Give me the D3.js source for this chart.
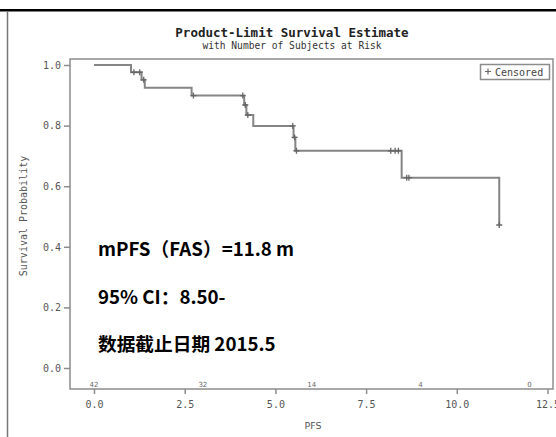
<!DOCTYPE html>
<html>
<head>
<meta charset="utf-8">
<script src="https://cdn.jsdelivr.net/npm/d3@7"></script>
<style>
  body { margin: 0; background: #fff; }
  svg { display: block; }
</style>
</head>
<body>
<svg id="chart" width="556" height="437"></svg>
<script>
// Kaplan-Meier steps: time of event and survival after it
const eventTimes = [1.02, 1.31, 1.40, 2.69, 4.14, 4.20, 4.39, 5.50, 5.55, 8.48, 11.17];
const eventSurv  = [0.976, 0.951, 0.925, 0.899, 0.868, 0.835, 0.799, 0.761, 0.717, 0.628, 0.472];
// censored subjects
const censTimes = [1.10, 1.26, 1.37, 2.74, 4.10, 4.17, 4.24, 5.48, 5.53, 5.58, 8.18, 8.30, 8.39, 8.62, 8.68, 11.17];
const censSurv  = [0.976, 0.976, 0.951, 0.899, 0.899, 0.868, 0.835, 0.799, 0.761, 0.717, 0.717, 0.717, 0.717, 0.628, 0.628, 0.472];
// number at risk
const riskTimes = [0, 3, 6, 9, 12];
const riskCounts = [42, 32, 14, 4, 0];
const xTicks = [0, 2.5, 5, 7.5, 10, 12.5];
const yTicks = [0, 0.2, 0.4, 0.6, 0.8, 1.0];
const notes = ["mPFS（FAS）=11.8 m", "95% CI：8.50-", "数据截止日期 2015.5"];

const svg = d3.select("#chart");
const mono = "'DejaVu Sans Mono', 'Liberation Mono', monospace";
const grey = "#8c8c8c";

// page frame
svg.append("rect").attr("x", 0).attr("y", 9).attr("width", 556).attr("height", 2.5).attr("fill", "#000");
svg.append("line").attr("x1", 7.5).attr("x2", 7.5).attr("y1", 12).attr("y2", 437)
    .attr("stroke", "#777").attr("stroke-width", 1.5);

const box = {left: 70, top: 59, right: 553, bottom: 389};
const x = d3.scaleLinear().domain([0, 12.5]).range([94, 547.5]);
const y = d3.scaleLinear().domain([0, 1]).range([368, 65]);

// plot border
svg.append("rect")
    .attr("x", box.left).attr("y", box.top)
    .attr("width", box.right - box.left).attr("height", box.bottom - box.top)
    .attr("fill", "none").attr("stroke", grey).attr("stroke-width", 1.5);

// titles
svg.append("text").attr("x", 292).attr("y", 37).attr("text-anchor", "middle")
    .attr("font-family", mono).attr("font-weight", "bold").attr("font-size", 12.5).attr("fill", "#222")
    .text("Product-Limit Survival Estimate");
svg.append("text").attr("x", 292).attr("y", 49).attr("text-anchor", "middle")
    .attr("font-family", mono).attr("font-size", 9.6).attr("fill", "#333")
    .text("with Number of Subjects at Risk");

// axes
const xAxis = svg.append("g").attr("transform", `translate(0,${box.bottom})`)
    .call(d3.axisBottom(x).tickValues(xTicks).tickSize(5).tickPadding(7).tickFormat(d3.format(".1f")));
const yAxis = svg.append("g").attr("transform", `translate(${box.left},0)`)
    .call(d3.axisLeft(y).tickValues(yTicks).tickSize(6).tickPadding(3).tickFormat(d3.format(".1f")));
[xAxis, yAxis].forEach(g => {
    g.select(".domain").remove();
    g.selectAll("line").attr("stroke", grey).attr("stroke-width", 1.5);
    g.selectAll("text").attr("font-family", mono).attr("font-size", 10).attr("fill", "#555");
});

svg.append("text").attr("x", 313).attr("y", 429).attr("text-anchor", "middle")
    .attr("font-family", "'DejaVu Sans', sans-serif").attr("font-size", 9.5).attr("fill", "#555")
    .text("PFS");
svg.append("text").attr("transform", "translate(27,216) rotate(-90)").attr("text-anchor", "middle")
    .attr("font-family", mono).attr("font-size", 10).attr("fill", "#555")
    .text("Survival Probability");

// at-risk counts
svg.append("g").selectAll("text").data(riskTimes).join("text")
    .attr("x", d => x(d)).attr("y", 386.5).attr("text-anchor", "middle")
    .attr("font-family", "'DejaVu Sans', sans-serif").attr("font-size", 7).attr("fill", "#666")
    .text((d, i) => riskCounts[i]);

// survival step line
const pts = [[0, 1]];
let last = 1;
eventTimes.forEach((t, i) => { pts.push([t, last]); pts.push([t, eventSurv[i]]); last = eventSurv[i]; });
svg.append("path").datum(pts)
    .attr("d", d3.line().x(d => x(d[0])).y(d => y(d[1])))
    .attr("fill", "none").attr("stroke", "#858585").attr("stroke-width", 2);

// censor marks
svg.append("g").selectAll("path").data(censTimes).join("path")
    .attr("transform", (d, i) => `translate(${x(d)},${y(censSurv[i])})`)
    .attr("d", "M-3,0H3M0,-3V3")
    .attr("stroke", "#666").attr("stroke-width", 1.3);

// legend
svg.append("rect").attr("x", 480.5).attr("y", 64.5).attr("width", 69).attr("height", 15)
    .attr("fill", "#fff").attr("stroke", grey).attr("stroke-width", 1.5);
svg.append("path").attr("d", "M485,71.5H491M488,68.5V74.5").attr("stroke", "#666").attr("stroke-width", 1.2);
svg.append("text").attr("x", 495).attr("y", 75.5)
    .attr("font-family", mono).attr("font-size", 10).attr("fill", "#444")
    .text("Censored");

// annotations
svg.append("g").selectAll("text").data(notes).join("text")
    .attr("x", 98).attr("y", (d, i) => 256 + i * 47.5)
    .attr("font-family", "'Noto Sans CJK SC', sans-serif").attr("font-weight", "bold")
    .attr("font-size", 18.7).attr("fill", "#000")
    .text(d => d);
</script>
</body>
</html>
